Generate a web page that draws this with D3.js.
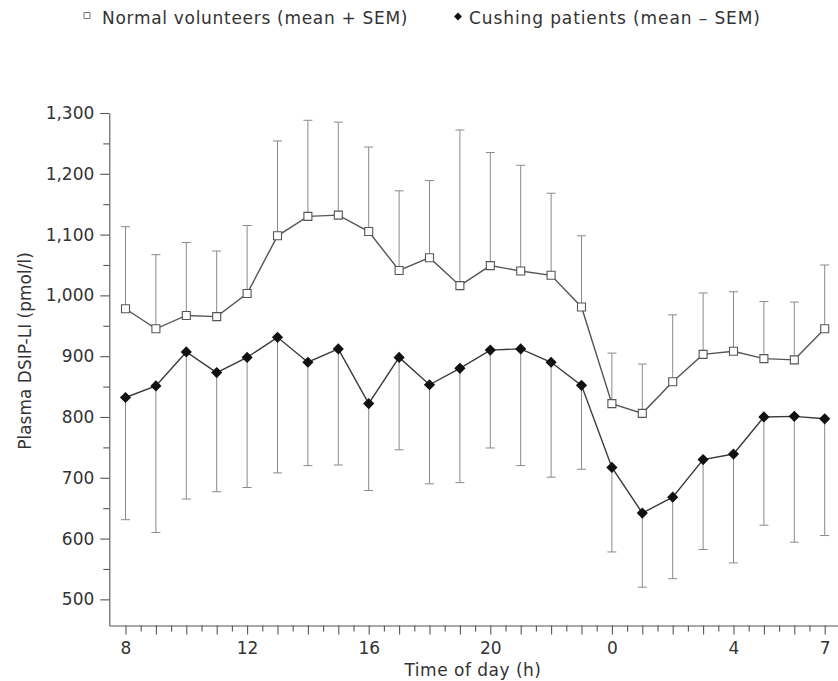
<!DOCTYPE html>
<html>
<head>
<meta charset="utf-8">
<script src="https://cdn.jsdelivr.net/npm/d3@7"></script>
<style>
  body { margin:0; background:#fff; }
  svg text { font-family:"DejaVu Sans", sans-serif; fill:#333; }
</style>
</head>
<body>
<svg id="chart" width="838" height="681"></svg>
<script>
// time of day, 8h through 7h next morning (24 = midnight)
var hours = [8,9,10,11,12,13,14,15,16,17,18,19,20,21,22,23,24,25,26,27,28,29,30,31];
var labelHours = [8,12,16,20,24,28,31];
var yTicks = [500,600,700,800,900,1000,1100,1200,1300];

var normalMean  = [978,945,967,965,1003,1098,1130,1132,1105,1041,1062,1016,1049,1040,1033,981,822,806,858,903,908,896,894,945];
var normalUpper = [1113,1067,1087,1073,1115,1254,1288,1285,1244,1172,1189,1272,1235,1214,1168,1098,905,887,968,1004,1006,990,989,1050];
var cushingMean  = [832,851,907,873,898,931,890,912,822,898,853,880,910,912,890,852,717,642,668,730,739,800,801,797];
var cushingLower = [631,610,665,677,684,708,720,721,679,746,690,692,749,720,701,714,578,520,534,582,560,622,594,605];

var legendLabels = ["Normal volunteers (mean + SEM)", "Cushing patients (mean \u2013 SEM)"];

var svg = d3.select("#chart");

var x = d3.scaleLinear().domain([7.467, 31.5]).range([109.3, 839.9]);
var y = d3.scaleLinear().domain([457, 1300]).range([625.5, 113]);

var axisColor = "#555";

// axes
var halfHours = hours.map(function(h){ return h + 0.5; }).filter(function(h){ return h < 31.5; });

var gx = svg.append("g").attr("transform", "translate(0," + y(457) + ")");
gx.call(d3.axisBottom(x).tickValues(hours).tickSize(9).tickSizeOuter(0).tickFormat(""));
gx.append("g").call(d3.axisBottom(x).tickValues(halfHours).tickSize(6).tickSizeOuter(0).tickFormat(""));
gx.append("g").call(d3.axisBottom(x).tickValues(labelHours).tickSize(0).tickPadding(16)
  .tickFormat(function(d){ return d % 24; }));

var gy = svg.append("g").attr("transform", "translate(" + x(7.467) + ",0)");
gy.call(d3.axisLeft(y).tickValues(yTicks).tickSize(9).tickSizeOuter(0).tickPadding(6).tickFormat(d3.format(",")));
gy.append("g").call(d3.axisLeft(y).tickValues(d3.range(550, 1300, 100)).tickSize(6).tickSizeOuter(0).tickFormat(""));

svg.selectAll(".domain, .tick line").attr("stroke", axisColor).attr("stroke-width", 1.1);
svg.selectAll(".tick text").attr("font-size", "17px").attr("fill", "#333").attr("font-family", "DejaVu Sans");
gx.selectAll("g g .domain").remove();
gy.selectAll("g g .domain").remove();

// axis titles
svg.append("text")
  .attr("x", 473).attr("y", 676)
  .attr("text-anchor", "middle")
  .attr("font-size", "17px")
  .style("letter-spacing", "0.5px")
  .text("Time of day (h)");

svg.append("text")
  .attr("transform", "translate(31,351) rotate(-90)")
  .attr("text-anchor", "middle")
  .attr("font-size", "17px")
  .text("Plasma DSIP-LI (pmol/l)");

// error bars
var bars = svg.append("g");
hours.forEach(function(h, i){
  var cx = x(h);
  bars.append("line").attr("x1", cx).attr("x2", cx).attr("y1", y(normalMean[i])).attr("y2", y(normalUpper[i]));
  bars.append("line").attr("x1", cx - 4.5).attr("x2", cx + 4.5).attr("y1", y(normalUpper[i])).attr("y2", y(normalUpper[i]));
  bars.append("line").attr("x1", cx).attr("x2", cx).attr("y1", y(cushingMean[i])).attr("y2", y(cushingLower[i]));
  bars.append("line").attr("x1", cx - 4.5).attr("x2", cx + 4.5).attr("y1", y(cushingLower[i])).attr("y2", y(cushingLower[i]));
});
bars.selectAll("line").attr("stroke", "#8a8a8a").attr("stroke-width", 1);

// lines
var line = d3.line()
  .x(function(d){ return x(d.h); })
  .y(function(d){ return y(d.v); });

function series(values) {
  return hours.map(function(h, i){ return {h:h, v:values[i]}; });
}

svg.append("path").datum(series(normalMean))
  .attr("d", line).attr("fill", "none").attr("stroke", "#555").attr("stroke-width", 1.4);
svg.append("path").datum(series(cushingMean))
  .attr("d", line).attr("fill", "none").attr("stroke", "#3a3a3a").attr("stroke-width", 1.4);

// markers
var square = d3.symbol().type(d3.symbolSquare).size(64);
var diamond = d3.symbol().type(d3.symbolDiamond2).size(80);

svg.append("g").selectAll("path")
  .data(series(normalMean)).enter().append("path")
  .attr("d", square)
  .attr("transform", function(d){ return "translate(" + x(d.h) + "," + y(d.v) + ")"; })
  .attr("fill", "#fff").attr("stroke", "#555").attr("stroke-width", 1.1);

svg.append("g").selectAll("path")
  .data(series(cushingMean)).enter().append("path")
  .attr("d", diamond)
  .attr("transform", function(d){ return "translate(" + x(d.h) + "," + y(d.v) + ")"; })
  .attr("fill", "#111");

// legend
var legend = svg.append("g");
legend.append("path").attr("d", d3.symbol().type(d3.symbolSquare).size(36))
  .attr("transform", "translate(87,15.5)")
  .attr("fill", "#fff").attr("stroke", "#777").attr("stroke-width", 1);
legend.append("text").attr("x", 102).attr("y", 24).attr("font-size", "17px")
  .style("letter-spacing", "0.7px").text(legendLabels[0]);
legend.append("path").attr("d", d3.symbol().type(d3.symbolDiamond2).size(40))
  .attr("transform", "translate(458,16.5)")
  .attr("fill", "#111");
legend.append("text").attr("x", 469).attr("y", 24).attr("font-size", "17px")
  .style("letter-spacing", "0.9px").text(legendLabels[1]);
</script>
</body>
</html>
